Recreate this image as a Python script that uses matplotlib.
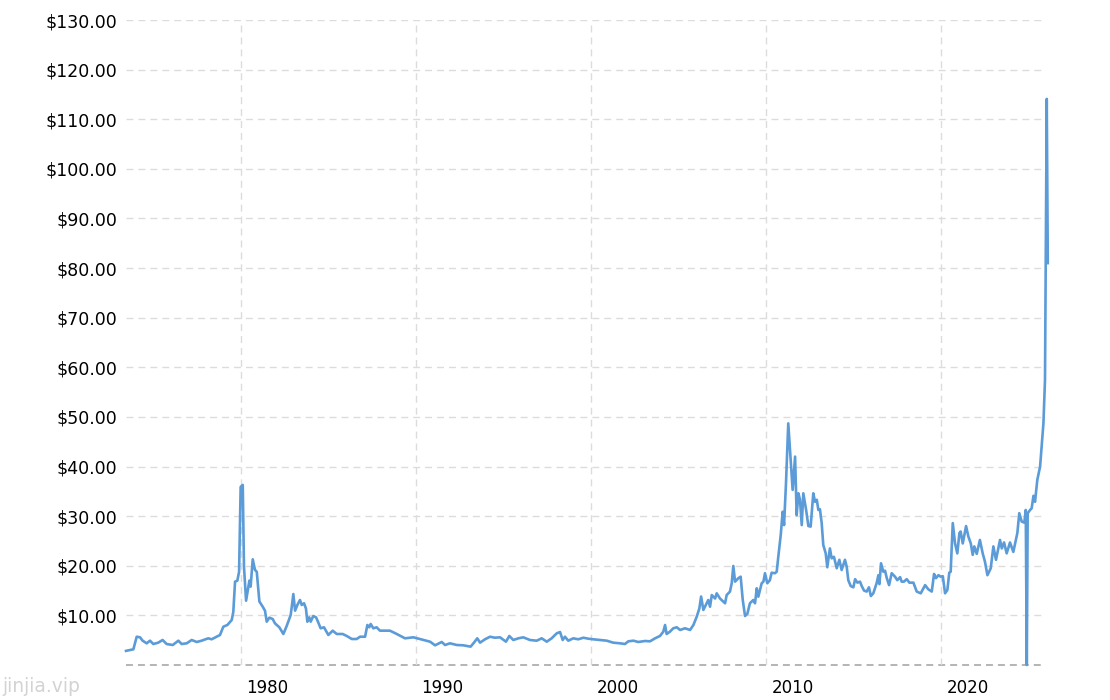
import matplotlib
matplotlib.use("Agg")
import matplotlib.pyplot as plt
import matplotlib.transforms as mtransforms

plt.rcParams['lines.scale_dashes'] = False
plt.rcParams['font.family'] = ['DejaVu Sans']

# Silver price series (year fraction, USD/oz)
years = [
    1973.43, 1973.85, 1974.04, 1974.23, 1974.38, 1974.61, 1974.80, 1974.99, 1975.27, 1975.52,
    1975.75, 1976.10, 1976.42, 1976.61, 1976.90, 1977.18, 1977.47, 1977.75, 1978.13, 1978.32,
    1978.61, 1978.80, 1978.99, 1979.22, 1979.47, 1979.56, 1979.66, 1979.79, 1979.89, 1979.98,
    1980.10, 1980.17, 1980.29, 1980.42, 1980.48, 1980.55, 1980.67, 1980.80, 1980.90, 1981.05,
    1981.24, 1981.37, 1981.47, 1981.62, 1981.81, 1981.94, 1982.19, 1982.42, 1982.61, 1982.84,
    1982.99, 1983.09, 1983.22, 1983.37, 1983.47, 1983.60, 1983.71, 1983.79, 1983.90, 1983.98,
    1984.13, 1984.29, 1984.42, 1984.55, 1984.74, 1984.99, 1985.24, 1985.47, 1985.81, 1986.04,
    1986.33, 1986.61, 1986.80, 1987.09, 1987.22, 1987.33, 1987.41, 1987.56, 1987.75, 1987.94,
    1988.51, 1988.90, 1989.37, 1989.85, 1990.42, 1990.80, 1991.09, 1991.47, 1991.66, 1991.94,
    1992.33, 1992.70, 1993.12, 1993.31, 1993.50, 1993.66, 1993.94, 1994.23, 1994.51, 1994.80,
    1995.14, 1995.33, 1995.56, 1995.85, 1996.13, 1996.51, 1996.90, 1997.18, 1997.47, 1997.75,
    1998.04, 1998.23, 1998.38, 1998.51, 1998.70, 1998.99, 1999.27, 1999.56, 1999.85, 2000.13,
    2000.51, 2000.90, 2001.27, 2001.66, 2001.94, 2002.13, 2002.42, 2002.70, 2003.09, 2003.37,
    2003.66, 2003.94, 2004.13, 2004.23, 2004.32, 2004.51, 2004.70, 2004.90, 2005.09, 2005.37,
    2005.66, 2005.85, 2006.04, 2006.19, 2006.29, 2006.42, 2006.70, 2006.80, 2006.90, 2007.09,
    2007.18, 2007.37, 2007.56, 2007.66, 2007.75, 2007.94, 2008.04, 2008.13, 2008.23, 2008.42,
    2008.55, 2008.67, 2008.80, 2008.93, 2009.08, 2009.27, 2009.37, 2009.47, 2009.56, 2009.75,
    2009.85, 2009.94, 2010.07, 2010.22, 2010.32, 2010.51, 2010.61, 2010.70, 2010.84, 2010.95,
    2011.03, 2011.14, 2011.27, 2011.37, 2011.52, 2011.66, 2011.75, 2011.85, 2011.94, 2012.04,
    2012.13, 2012.29, 2012.42, 2012.55, 2012.70, 2012.80, 2012.90, 2012.99, 2013.08, 2013.18,
    2013.27, 2013.41, 2013.50, 2013.65, 2013.75, 2013.88, 2014.04, 2014.19, 2014.32, 2014.51,
    2014.61, 2014.70, 2014.84, 2014.99, 2015.09, 2015.22, 2015.37, 2015.47, 2015.60, 2015.75,
    2015.88, 2015.99, 2016.13, 2016.32, 2016.42, 2016.48, 2016.57, 2016.70, 2016.80, 2016.90,
    2017.03, 2017.18, 2017.37, 2017.50, 2017.66, 2017.75, 2017.88, 2018.04, 2018.19, 2018.42,
    2018.61, 2018.84, 2019.09, 2019.27, 2019.47, 2019.60, 2019.71, 2019.85, 2019.98, 2020.10,
    2020.23, 2020.36, 2020.47, 2020.55, 2020.67, 2020.80, 2020.93, 2021.05, 2021.12, 2021.24,
    2021.43, 2021.56, 2021.70, 2021.81, 2021.90, 2022.04, 2022.22, 2022.38, 2022.51, 2022.65,
    2022.84, 2022.99, 2023.14, 2023.37, 2023.47, 2023.60, 2023.75, 2023.94, 2024.13, 2024.36,
    2024.47, 2024.61, 2024.76, 2024.84, 2024.90, 2024.95, 2025.09, 2025.18, 2025.28, 2025.37,
    2025.50, 2025.66, 2025.75, 2025.85, 2025.94, 2026.04, 2026.10,
]
prices = [
    2.85, 3.16, 5.70, 5.58, 4.90, 4.37, 4.90, 4.23, 4.50, 5.04,
    4.23, 4.03, 4.90, 4.23, 4.37, 5.04, 4.64, 4.90, 5.38, 5.18,
    5.70, 6.05, 7.72, 8.06, 9.07, 10.70, 16.80, 17.00, 18.80, 35.90,
    36.30, 19.80, 12.96, 15.80, 17.00, 15.80, 21.30, 19.15, 18.80, 12.80,
    11.75, 10.95, 8.73, 9.54, 9.27, 8.40, 7.60, 6.25, 7.86, 10.08,
    14.30, 10.95, 12.10, 13.10, 12.10, 12.44, 11.40, 8.73, 9.60, 8.73,
    9.88, 9.60, 8.53, 7.40, 7.60, 6.05, 6.92, 6.25, 6.25, 5.85,
    5.24, 5.24, 5.70, 5.70, 8.06, 7.60, 8.27, 7.40, 7.60, 6.92,
    6.92, 6.25, 5.38, 5.58, 5.04, 4.70, 3.97, 4.64, 4.03, 4.37,
    4.03, 3.97, 3.70, 4.50, 5.38, 4.50, 5.18, 5.70, 5.50, 5.58,
    4.70, 5.85, 5.04, 5.38, 5.58, 5.04, 4.90, 5.38, 4.70, 5.38,
    6.38, 6.65, 5.04, 5.70, 4.90, 5.38, 5.18, 5.50, 5.30, 5.18,
    5.04, 4.90, 4.50, 4.37, 4.23, 4.77, 4.90, 4.64, 4.84, 4.77,
    5.38, 5.85, 6.72, 8.06, 6.25, 6.72, 7.40, 7.60, 7.06, 7.40,
    7.06, 8.06, 9.74, 11.40, 13.80, 11.10, 13.10, 11.75, 14.10, 13.40,
    14.45, 13.40, 12.77, 12.44, 14.10, 14.80, 16.50, 19.96, 16.80, 17.50,
    17.80, 13.10, 9.88, 10.28, 12.44, 13.10, 12.44, 15.46, 13.77, 16.47,
    16.80, 18.50, 16.47, 17.10, 18.60, 18.50, 18.80, 21.80, 26.20, 30.90,
    28.20, 36.60, 48.70, 43.30, 35.30, 42.00, 30.20, 34.60, 33.30, 28.20,
    34.60, 31.25, 28.00, 27.90, 34.60, 32.90, 33.30, 31.25, 31.40, 28.60,
    24.20, 22.50, 19.70, 23.50, 21.50, 21.80, 19.50, 21.20, 19.15, 21.20,
    19.80, 17.10, 15.90, 15.66, 17.30, 16.60, 16.80, 15.90, 15.00, 14.80,
    15.66, 13.90, 14.45, 16.50, 18.10, 16.30, 20.50, 18.80, 19.00, 17.50,
    16.10, 18.50, 17.80, 17.10, 17.70, 16.80, 16.80, 17.30, 16.60, 16.60,
    14.80, 14.45, 16.10, 15.26, 14.80, 18.35, 17.50, 18.10, 17.80, 17.90,
    14.45, 15.10, 18.60, 18.80, 28.60, 24.50, 22.50, 26.60, 26.90, 24.50,
    28.00, 25.90, 24.50, 22.20, 23.90, 22.40, 25.20, 22.50, 20.80, 18.10,
    19.50, 23.90, 21.20, 25.20, 23.50, 24.70, 22.50, 24.70, 22.80, 26.60,
    30.60, 28.90, 28.70, 31.25, 0.00, 30.60, 31.25, 31.60, 34.10, 32.90,
    37.30, 40.00, 44.00, 48.70, 57.50, 114.10, 81.00,
]

y_ticks = [10, 20, 30, 40, 50, 60, 70, 80, 90, 100, 110, 120, 130]
x_ticks = [1980, 1990, 2000, 2010, 2020]
x_tick_labels = ["1980", "1990", "2000", "2010", "2020"]

W, H = 1110, 700
fig = plt.figure(figsize=(W / 100, H / 100), dpi=100)
left_px, right_px, top_px, bottom_px = 125.5, 1045, 20, 665
ax = fig.add_axes([left_px / W, 1 - bottom_px / H, (right_px - left_px) / W, (bottom_px - top_px) / H])

ax.plot(years, prices, color="#5b9bd8", linewidth=1.9, solid_joinstyle="round",
        clip_on=False, zorder=3)

ax.set_xlim(1973.40, 2025.94)
ax.set_ylim(0, 130)

dash = (0, (5, 3.6))
ax.set_yticks(y_ticks)
ax.set_yticklabels([f"${v:.2f}" for v in y_ticks])
ax.set_xticks(x_ticks)
ax.set_xticklabels(x_tick_labels)
ax.grid(True, color="#dcdcdc", linestyle=dash, linewidth=1.0, zorder=0)
ax.axhline(0, color="#a8a8a8", linestyle=dash, linewidth=1.2, clip_on=False, zorder=1)

for s in ax.spines.values():
    s.set_visible(False)
ax.tick_params(axis="both", length=0, labelcolor="#000000")
ax.tick_params(axis="y", pad=5.8, labelsize=12.5)
ax.tick_params(axis="x", pad=10, labelsize=12)

offset = mtransforms.ScaledTranslation(0.265, 0, fig.dpi_scale_trans)
for lab in ax.get_xticklabels():
    lab.set_transform(lab.get_transform() + offset)

fig.text(2 / W, 1 - 686 / H, "jinjia.vip", color="#d3d3d3", fontsize=13.5, va="center", ha="left")

fig.savefig("out.png", dpi=100)
